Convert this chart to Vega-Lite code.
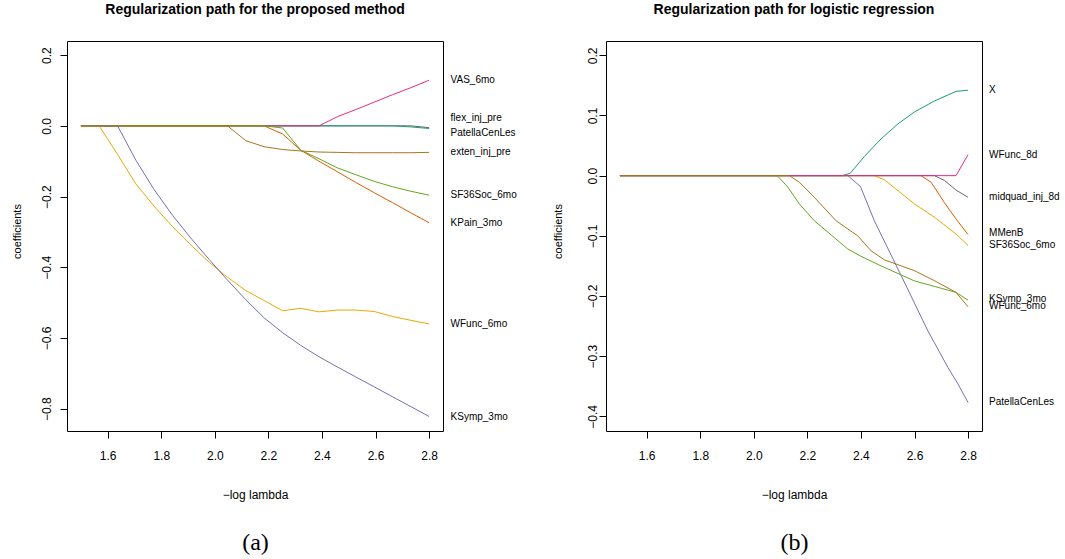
{
  "$schema": "https://vega.github.io/schema/vega-lite/v6.json",
  "autosize": {"type": "pad"},
  "padding": {"left": 10, "top": 2, "right": 0, "bottom": 0},
  "bounds": "flush",
  "spacing": 163,
  "resolve": {"scale": {"x": "independent", "y": "independent", "color": "independent"}},
  "config": {
    "font": "Liberation Sans",
    "view": {"stroke": "black", "strokeWidth": 1},
    "axis": {"grid": false, "domain": false, "labelColor": "black", "titleColor": "black", "tickColor": "black", "titleFontWeight": "normal", "tickSize": 7, "labelFontSize": 12, "titleFontSize": 12},
    "title": {"color": "black", "fontSize": 14, "fontWeight": "bold", "anchor": "middle"}
  },
  "datasets": {
    "a": [
      {"var": "PatellaCenLes", "lambda": 1.5, "coef": 0},
      {"var": "PatellaCenLes", "lambda": 2.732, "coef": 0},
      {"var": "PatellaCenLes", "lambda": 2.8, "coef": -0.005},
      {"var": "flex_inj_pre", "lambda": 1.5, "coef": 0},
      {"var": "flex_inj_pre", "lambda": 2.663, "coef": 0},
      {"var": "flex_inj_pre", "lambda": 2.732, "coef": -0.003},
      {"var": "flex_inj_pre", "lambda": 2.8, "coef": -0.0075},
      {"var": "VAS_6mo", "lambda": 1.5, "coef": 0},
      {"var": "VAS_6mo", "lambda": 2.389, "coef": 0},
      {"var": "VAS_6mo", "lambda": 2.458, "coef": 0.026},
      {"var": "VAS_6mo", "lambda": 2.526, "coef": 0.046},
      {"var": "VAS_6mo", "lambda": 2.595, "coef": 0.067},
      {"var": "VAS_6mo", "lambda": 2.663, "coef": 0.088},
      {"var": "VAS_6mo", "lambda": 2.732, "coef": 0.108},
      {"var": "VAS_6mo", "lambda": 2.8, "coef": 0.129},
      {"var": "KPain_3mo", "lambda": 1.5, "coef": 0},
      {"var": "KPain_3mo", "lambda": 2.184, "coef": 0},
      {"var": "KPain_3mo", "lambda": 2.253, "coef": -0.023},
      {"var": "KPain_3mo", "lambda": 2.321, "coef": -0.069},
      {"var": "KPain_3mo", "lambda": 2.389, "coef": -0.100},
      {"var": "KPain_3mo", "lambda": 2.458, "coef": -0.130},
      {"var": "KPain_3mo", "lambda": 2.526, "coef": -0.160},
      {"var": "KPain_3mo", "lambda": 2.595, "coef": -0.189},
      {"var": "KPain_3mo", "lambda": 2.663, "coef": -0.217},
      {"var": "KPain_3mo", "lambda": 2.732, "coef": -0.246},
      {"var": "KPain_3mo", "lambda": 2.8, "coef": -0.274},
      {"var": "SF36Soc_6mo", "lambda": 1.5, "coef": 0},
      {"var": "SF36Soc_6mo", "lambda": 2.184, "coef": 0},
      {"var": "SF36Soc_6mo", "lambda": 2.253, "coef": -0.006},
      {"var": "SF36Soc_6mo", "lambda": 2.321, "coef": -0.069},
      {"var": "SF36Soc_6mo", "lambda": 2.389, "coef": -0.093},
      {"var": "SF36Soc_6mo", "lambda": 2.458, "coef": -0.119},
      {"var": "SF36Soc_6mo", "lambda": 2.526, "coef": -0.138},
      {"var": "SF36Soc_6mo", "lambda": 2.595, "coef": -0.157},
      {"var": "SF36Soc_6mo", "lambda": 2.663, "coef": -0.172},
      {"var": "SF36Soc_6mo", "lambda": 2.732, "coef": -0.185},
      {"var": "SF36Soc_6mo", "lambda": 2.8, "coef": -0.196},
      {"var": "WFunc_6mo", "lambda": 1.5, "coef": 0},
      {"var": "WFunc_6mo", "lambda": 1.568, "coef": 0},
      {"var": "WFunc_6mo", "lambda": 1.637, "coef": -0.081},
      {"var": "WFunc_6mo", "lambda": 1.705, "coef": -0.164},
      {"var": "WFunc_6mo", "lambda": 1.774, "coef": -0.228},
      {"var": "WFunc_6mo", "lambda": 1.842, "coef": -0.285},
      {"var": "WFunc_6mo", "lambda": 1.911, "coef": -0.337},
      {"var": "WFunc_6mo", "lambda": 1.979, "coef": -0.386},
      {"var": "WFunc_6mo", "lambda": 2.047, "coef": -0.428},
      {"var": "WFunc_6mo", "lambda": 2.116, "coef": -0.466},
      {"var": "WFunc_6mo", "lambda": 2.184, "coef": -0.494},
      {"var": "WFunc_6mo", "lambda": 2.253, "coef": -0.523},
      {"var": "WFunc_6mo", "lambda": 2.321, "coef": -0.516},
      {"var": "WFunc_6mo", "lambda": 2.389, "coef": -0.526},
      {"var": "WFunc_6mo", "lambda": 2.458, "coef": -0.521},
      {"var": "WFunc_6mo", "lambda": 2.526, "coef": -0.521},
      {"var": "WFunc_6mo", "lambda": 2.595, "coef": -0.525},
      {"var": "WFunc_6mo", "lambda": 2.663, "coef": -0.539},
      {"var": "WFunc_6mo", "lambda": 2.732, "coef": -0.550},
      {"var": "WFunc_6mo", "lambda": 2.8, "coef": -0.560},
      {"var": "KSymp_3mo", "lambda": 1.5, "coef": 0},
      {"var": "KSymp_3mo", "lambda": 1.568, "coef": 0},
      {"var": "KSymp_3mo", "lambda": 1.637, "coef": 0},
      {"var": "KSymp_3mo", "lambda": 1.705, "coef": -0.097},
      {"var": "KSymp_3mo", "lambda": 1.774, "coef": -0.181},
      {"var": "KSymp_3mo", "lambda": 1.842, "coef": -0.253},
      {"var": "KSymp_3mo", "lambda": 1.911, "coef": -0.318},
      {"var": "KSymp_3mo", "lambda": 1.979, "coef": -0.378},
      {"var": "KSymp_3mo", "lambda": 2.047, "coef": -0.436},
      {"var": "KSymp_3mo", "lambda": 2.116, "coef": -0.492},
      {"var": "KSymp_3mo", "lambda": 2.184, "coef": -0.543},
      {"var": "KSymp_3mo", "lambda": 2.253, "coef": -0.585},
      {"var": "KSymp_3mo", "lambda": 2.321, "coef": -0.621},
      {"var": "KSymp_3mo", "lambda": 2.389, "coef": -0.653},
      {"var": "KSymp_3mo", "lambda": 2.458, "coef": -0.682},
      {"var": "KSymp_3mo", "lambda": 2.526, "coef": -0.710},
      {"var": "KSymp_3mo", "lambda": 2.595, "coef": -0.738},
      {"var": "KSymp_3mo", "lambda": 2.663, "coef": -0.766},
      {"var": "KSymp_3mo", "lambda": 2.732, "coef": -0.794},
      {"var": "KSymp_3mo", "lambda": 2.8, "coef": -0.822},
      {"var": "exten_inj_pre", "lambda": 1.5, "coef": 0},
      {"var": "exten_inj_pre", "lambda": 2.047, "coef": 0},
      {"var": "exten_inj_pre", "lambda": 2.116, "coef": -0.042},
      {"var": "exten_inj_pre", "lambda": 2.184, "coef": -0.059},
      {"var": "exten_inj_pre", "lambda": 2.253, "coef": -0.067},
      {"var": "exten_inj_pre", "lambda": 2.321, "coef": -0.071},
      {"var": "exten_inj_pre", "lambda": 2.389, "coef": -0.074},
      {"var": "exten_inj_pre", "lambda": 2.458, "coef": -0.075},
      {"var": "exten_inj_pre", "lambda": 2.526, "coef": -0.076},
      {"var": "exten_inj_pre", "lambda": 2.595, "coef": -0.076},
      {"var": "exten_inj_pre", "lambda": 2.663, "coef": -0.076},
      {"var": "exten_inj_pre", "lambda": 2.732, "coef": -0.076},
      {"var": "exten_inj_pre", "lambda": 2.8, "coef": -0.075}
    ],
    "a_labels": [
      {"var": "VAS_6mo", "lambda": 2.8, "at": 0.13},
      {"var": "flex_inj_pre", "lambda": 2.8, "at": 0.023},
      {"var": "PatellaCenLes", "lambda": 2.8, "at": -0.019},
      {"var": "exten_inj_pre", "lambda": 2.8, "at": -0.075},
      {"var": "SF36Soc_6mo", "lambda": 2.8, "at": -0.196},
      {"var": "KPain_3mo", "lambda": 2.8, "at": -0.274},
      {"var": "WFunc_6mo", "lambda": 2.8, "at": -0.56},
      {"var": "KSymp_3mo", "lambda": 2.8, "at": -0.822}
    ],
    "b": [
      {"var": "X", "lambda": 1.5, "coef": 0},
      {"var": "X", "lambda": 2.33, "coef": 0},
      {"var": "X", "lambda": 2.36, "coef": 0.004},
      {"var": "X", "lambda": 2.413, "coef": 0.032},
      {"var": "X", "lambda": 2.475, "coef": 0.061},
      {"var": "X", "lambda": 2.538, "coef": 0.086},
      {"var": "X", "lambda": 2.6, "coef": 0.106},
      {"var": "X", "lambda": 2.674, "coef": 0.124},
      {"var": "X", "lambda": 2.755, "coef": 0.14},
      {"var": "X", "lambda": 2.8, "coef": 0.142},
      {"var": "MMenB", "lambda": 1.5, "coef": 0},
      {"var": "MMenB", "lambda": 2.624, "coef": 0},
      {"var": "MMenB", "lambda": 2.662, "coef": -0.011},
      {"var": "MMenB", "lambda": 2.712, "coef": -0.045},
      {"var": "MMenB", "lambda": 2.755, "coef": -0.072},
      {"var": "MMenB", "lambda": 2.8, "coef": -0.098},
      {"var": "PatellaCenLes", "lambda": 1.5, "coef": 0},
      {"var": "PatellaCenLes", "lambda": 2.351, "coef": 0},
      {"var": "PatellaCenLes", "lambda": 2.398, "coef": -0.018},
      {"var": "PatellaCenLes", "lambda": 2.45, "coef": -0.075},
      {"var": "PatellaCenLes", "lambda": 2.55, "coef": -0.166},
      {"var": "PatellaCenLes", "lambda": 2.65, "coef": -0.258},
      {"var": "PatellaCenLes", "lambda": 2.725, "coef": -0.319},
      {"var": "PatellaCenLes", "lambda": 2.762, "coef": -0.346},
      {"var": "PatellaCenLes", "lambda": 2.8, "coef": -0.377},
      {"var": "SF36Soc_6mo", "lambda": 1.5, "coef": 0},
      {"var": "SF36Soc_6mo", "lambda": 2.45, "coef": 0},
      {"var": "SF36Soc_6mo", "lambda": 2.488, "coef": -0.007},
      {"var": "SF36Soc_6mo", "lambda": 2.6, "coef": -0.047},
      {"var": "SF36Soc_6mo", "lambda": 2.674, "coef": -0.069},
      {"var": "SF36Soc_6mo", "lambda": 2.755, "coef": -0.097},
      {"var": "SF36Soc_6mo", "lambda": 2.8, "coef": -0.116},
      {"var": "midquad_inj_8d", "lambda": 1.5, "coef": 0},
      {"var": "midquad_inj_8d", "lambda": 2.674, "coef": 0},
      {"var": "midquad_inj_8d", "lambda": 2.712, "coef": -0.008},
      {"var": "midquad_inj_8d", "lambda": 2.755, "coef": -0.024},
      {"var": "midquad_inj_8d", "lambda": 2.8, "coef": -0.036},
      {"var": "KSymp_3mo", "lambda": 1.5, "coef": 0},
      {"var": "KSymp_3mo", "lambda": 2.087, "coef": 0},
      {"var": "KSymp_3mo", "lambda": 2.127, "coef": -0.019},
      {"var": "KSymp_3mo", "lambda": 2.17, "coef": -0.047},
      {"var": "KSymp_3mo", "lambda": 2.226, "coef": -0.075},
      {"var": "KSymp_3mo", "lambda": 2.351, "coef": -0.122},
      {"var": "KSymp_3mo", "lambda": 2.4, "coef": -0.134},
      {"var": "KSymp_3mo", "lambda": 2.475, "coef": -0.15},
      {"var": "KSymp_3mo", "lambda": 2.55, "coef": -0.165},
      {"var": "KSymp_3mo", "lambda": 2.6, "coef": -0.175},
      {"var": "KSymp_3mo", "lambda": 2.674, "coef": -0.184},
      {"var": "KSymp_3mo", "lambda": 2.755, "coef": -0.194},
      {"var": "KSymp_3mo", "lambda": 2.8, "coef": -0.207},
      {"var": "WFunc_8d", "lambda": 1.5, "coef": 0},
      {"var": "WFunc_8d", "lambda": 2.755, "coef": 0},
      {"var": "WFunc_8d", "lambda": 2.8, "coef": 0.035},
      {"var": "WFunc_6mo", "lambda": 1.5, "coef": 0},
      {"var": "WFunc_6mo", "lambda": 2.133, "coef": 0},
      {"var": "WFunc_6mo", "lambda": 2.17, "coef": -0.011},
      {"var": "WFunc_6mo", "lambda": 2.226, "coef": -0.036},
      {"var": "WFunc_6mo", "lambda": 2.307, "coef": -0.075},
      {"var": "WFunc_6mo", "lambda": 2.388, "coef": -0.1},
      {"var": "WFunc_6mo", "lambda": 2.438, "coef": -0.125},
      {"var": "WFunc_6mo", "lambda": 2.488, "coef": -0.14},
      {"var": "WFunc_6mo", "lambda": 2.538, "coef": -0.148},
      {"var": "WFunc_6mo", "lambda": 2.6, "coef": -0.158},
      {"var": "WFunc_6mo", "lambda": 2.674, "coef": -0.1745},
      {"var": "WFunc_6mo", "lambda": 2.755, "coef": -0.194},
      {"var": "WFunc_6mo", "lambda": 2.8, "coef": -0.218}
    ],
    "b_labels": [
      {"var": "X", "lambda": 2.8, "at": 0.142},
      {"var": "WFunc_8d", "lambda": 2.8, "at": 0.035},
      {"var": "midquad_inj_8d", "lambda": 2.8, "at": -0.036},
      {"var": "MMenB", "lambda": 2.8, "at": -0.096},
      {"var": "SF36Soc_6mo", "lambda": 2.8, "at": -0.116},
      {"var": "KSymp_3mo", "lambda": 2.8, "at": -0.205},
      {"var": "WFunc_6mo", "lambda": 2.8, "at": -0.217},
      {"var": "PatellaCenLes", "lambda": 2.8, "at": -0.377}
    ]
  },
  "hconcat": [
    {
      "width": 376,
      "height": 390,
      "title": {"text": "Regularization path for the proposed method", "baseline": "alphabetic", "offset": 13},
      "resolve": {"axis": {"x": "independent"}},
      "layer": [
        {
          "data": {"name": "a"},
          "mark": {"type": "line", "strokeWidth": 1},
          "encoding": {
            "x": {"field": "lambda", "type": "quantitative",
              "scale": {"domain": [1.448, 2.852], "nice": false, "zero": false},
              "axis": {"values": [1.6, 1.8, 2.0, 2.2, 2.4, 2.6, 2.8], "format": ".1f", "labelPadding": 12, "title": "−log lambda", "titleY": 67, "titleBaseline": "alphabetic", "orient": "bottom"}},
            "y": {"field": "coef", "type": "quantitative",
              "scale": {"domain": [-0.863, 0.24], "nice": false, "zero": false},
              "axis": {"values": [-0.8, -0.6, -0.4, -0.2, 0.0, 0.2], "format": ".1f", "labelAngle": -90, "labelAlign": "center", "labelBaseline": "middle", "labelPadding": 14, "title": "coefficients", "titleFontSize": 11, "titleX": -56, "titleY": 190, "titleBaseline": "top", "titleAlign": "center", "titleAngle": -90}},
            "color": {"field": "var", "type": "nominal", "legend": null,
              "scale": {"domain": ["PatellaCenLes", "flex_inj_pre", "VAS_6mo", "KPain_3mo", "SF36Soc_6mo", "WFunc_6mo", "KSymp_3mo", "exten_inj_pre"],
                        "range": ["#666666", "#1B9E77", "#E7298A", "#D95F02", "#66A61E", "#E6AB02", "#7570B3", "#A6761D"]}}
          }
        },
        {
          "data": {"name": "a_labels"},
          "mark": {"type": "text", "align": "left", "baseline": "middle", "dx": 21.5, "fontSize": 10, "color": "black"},
          "encoding": {
            "x": {"field": "lambda", "type": "quantitative",
              "axis": {"orient": "bottom", "labels": false, "ticks": false, "domain": false, "title": "(a)", "titleFont": "Liberation Serif", "titleFontSize": 24, "titleX": 188, "titleY": 118, "titleBaseline": "alphabetic", "titleAlign": "center"}},
            "y": {"field": "at", "type": "quantitative",
              "axis": {"values": [-0.8, -0.6, -0.4, -0.2, 0.0, 0.2], "format": ".1f", "labelAngle": -90, "labelAlign": "center", "labelBaseline": "middle", "labelPadding": 14, "title": "coefficients", "titleFontSize": 11, "titleX": -56, "titleY": 190, "titleBaseline": "top", "titleAlign": "center", "titleAngle": -90}},
            "text": {"field": "var"}
          }
        }
      ]
    },
    {
      "width": 376,
      "height": 390,
      "title": {"text": "Regularization path for logistic regression", "baseline": "alphabetic", "offset": 13},
      "resolve": {"axis": {"x": "independent"}},
      "layer": [
        {
          "data": {"name": "b"},
          "mark": {"type": "line", "strokeWidth": 1},
          "encoding": {
            "x": {"field": "lambda", "type": "quantitative",
              "scale": {"domain": [1.448, 2.852], "nice": false, "zero": false},
              "axis": {"values": [1.6, 1.8, 2.0, 2.2, 2.4, 2.6, 2.8], "format": ".1f", "labelPadding": 12, "title": "−log lambda", "titleY": 67, "titleBaseline": "alphabetic", "orient": "bottom"}},
            "y": {"field": "coef", "type": "quantitative",
              "scale": {"domain": [-0.4244, 0.2238], "nice": false, "zero": false},
              "axis": {"values": [-0.4, -0.3, -0.2, -0.1, 0.0, 0.1, 0.2], "format": ".1f", "labelAngle": -90, "labelAlign": "center", "labelBaseline": "middle", "labelPadding": 7, "title": "coefficients", "titleFontSize": 11, "titleX": -54, "titleY": 190, "titleBaseline": "top", "titleAlign": "center", "titleAngle": -90}},
            "color": {"field": "var", "type": "nominal", "legend": null,
              "scale": {"domain": ["X", "MMenB", "PatellaCenLes", "SF36Soc_6mo", "midquad_inj_8d", "KSymp_3mo", "WFunc_8d", "WFunc_6mo"],
                        "range": ["#1B9E77", "#D95F02", "#7570B3", "#E6AB02", "#666666", "#66A61E", "#E7298A", "#A6761D"]}}
          }
        },
        {
          "data": {"name": "b_labels"},
          "mark": {"type": "text", "align": "left", "baseline": "middle", "dx": 21, "fontSize": 10, "color": "black"},
          "encoding": {
            "x": {"field": "lambda", "type": "quantitative",
              "axis": {"orient": "bottom", "labels": false, "ticks": false, "domain": false, "title": "(b)", "titleFont": "Liberation Serif", "titleFontSize": 24, "titleX": 188, "titleY": 118, "titleBaseline": "alphabetic", "titleAlign": "center"}},
            "y": {"field": "at", "type": "quantitative",
              "axis": {"values": [-0.4, -0.3, -0.2, -0.1, 0.0, 0.1, 0.2], "format": ".1f", "labelAngle": -90, "labelAlign": "center", "labelBaseline": "middle", "labelPadding": 7, "title": "coefficients", "titleFontSize": 11, "titleX": -54, "titleY": 190, "titleBaseline": "top", "titleAlign": "center", "titleAngle": -90}},
            "text": {"field": "var"}
          }
        }
      ]
    }
  ]
}
